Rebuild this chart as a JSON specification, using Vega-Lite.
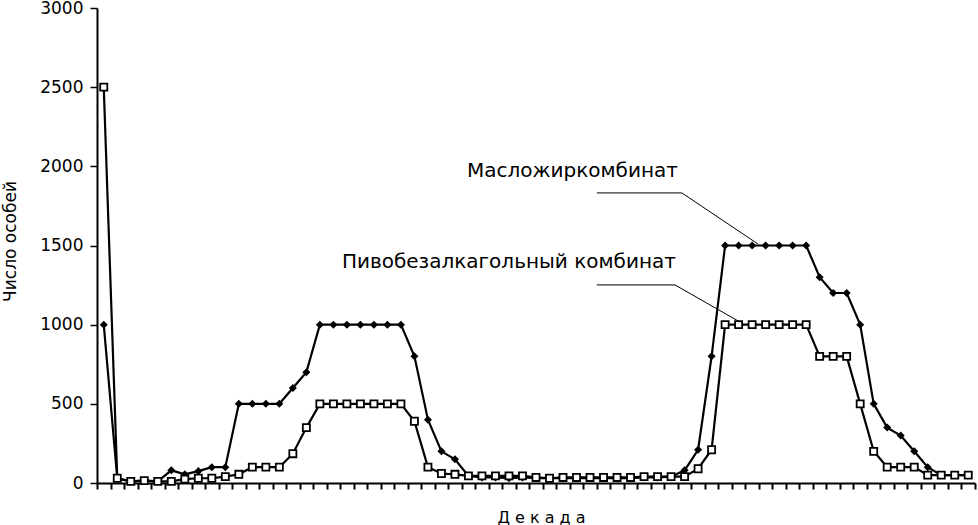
{
  "$schema": "https://vega.github.io/schema/vega-lite/v6.json",
  "autosize": "none",
  "width": 878,
  "height": 475,
  "padding": {"left": 97, "top": 8, "right": 3, "bottom": 42},
  "background": "white",
  "config": {
    "view": {"stroke": null},
    "font": "DejaVu Sans",
    "axis": {"grid": false, "domainColor": "black", "tickColor": "black", "labelColor": "black", "titleColor": "black", "domainWidth": 2, "tickWidth": 1.5}
  },
  "datasets": {
    "series": [
      {"i": 0, "M": 1000, "P": 2500},
      {"i": 1, "M": 30, "P": 30},
      {"i": 2, "M": 10, "P": 10},
      {"i": 3, "M": 15, "P": 15},
      {"i": 4, "M": 10, "P": 10},
      {"i": 5, "M": 80, "P": 10},
      {"i": 6, "M": 55, "P": 25},
      {"i": 7, "M": 75, "P": 30},
      {"i": 8, "M": 100, "P": 30},
      {"i": 9, "M": 100, "P": 40},
      {"i": 10, "M": 500, "P": 55},
      {"i": 11, "M": 500, "P": 100},
      {"i": 12, "M": 500, "P": 100},
      {"i": 13, "M": 500, "P": 100},
      {"i": 14, "M": 600, "P": 185},
      {"i": 15, "M": 700, "P": 350},
      {"i": 16, "M": 1000, "P": 500},
      {"i": 17, "M": 1000, "P": 500},
      {"i": 18, "M": 1000, "P": 500},
      {"i": 19, "M": 1000, "P": 500},
      {"i": 20, "M": 1000, "P": 500},
      {"i": 21, "M": 1000, "P": 500},
      {"i": 22, "M": 1000, "P": 500},
      {"i": 23, "M": 800, "P": 390},
      {"i": 24, "M": 400, "P": 100},
      {"i": 25, "M": 200, "P": 60},
      {"i": 26, "M": 150, "P": 55},
      {"i": 27, "M": 45, "P": 45},
      {"i": 28, "M": 35, "P": 45},
      {"i": 29, "M": 35, "P": 45},
      {"i": 30, "M": 30, "P": 45},
      {"i": 31, "M": 35, "P": 45},
      {"i": 32, "M": 30, "P": 35},
      {"i": 33, "M": 30, "P": 30},
      {"i": 34, "M": 30, "P": 35},
      {"i": 35, "M": 30, "P": 35},
      {"i": 36, "M": 30, "P": 35},
      {"i": 37, "M": 30, "P": 35},
      {"i": 38, "M": 30, "P": 35},
      {"i": 39, "M": 30, "P": 35},
      {"i": 40, "M": 35, "P": 40},
      {"i": 41, "M": 35, "P": 40},
      {"i": 42, "M": 40, "P": 40},
      {"i": 43, "M": 80, "P": 40},
      {"i": 44, "M": 210, "P": 90},
      {"i": 45, "M": 800, "P": 210},
      {"i": 46, "M": 1500, "P": 1000},
      {"i": 47, "M": 1500, "P": 1000},
      {"i": 48, "M": 1500, "P": 1000},
      {"i": 49, "M": 1500, "P": 1000},
      {"i": 50, "M": 1500, "P": 1000},
      {"i": 51, "M": 1500, "P": 1000},
      {"i": 52, "M": 1500, "P": 1000},
      {"i": 53, "M": 1300, "P": 800},
      {"i": 54, "M": 1200, "P": 800},
      {"i": 55, "M": 1200, "P": 800},
      {"i": 56, "M": 1000, "P": 500},
      {"i": 57, "M": 500, "P": 200},
      {"i": 58, "M": 350, "P": 100},
      {"i": 59, "M": 300, "P": 100},
      {"i": 60, "M": 200, "P": 100},
      {"i": 61, "M": 100, "P": 50},
      {"i": 62, "M": 50, "P": 50},
      {"i": 63, "M": 50, "P": 50},
      {"i": 64, "M": 50, "P": 50}
    ],
    "leaders": [
      {"id": 1, "o": 0, "x": 36.5, "y": 1832},
      {"id": 1, "o": 1, "x": 42.8, "y": 1832},
      {"id": 1, "o": 2, "x": 48.44, "y": 1509},
      {"id": 2, "o": 0, "x": 36.5, "y": 1251},
      {"id": 2, "o": 1, "x": 42.29, "y": 1251},
      {"id": 2, "o": 2, "x": 47.09, "y": 1017}
    ],
    "labels": [
      {"x": 26.89, "y": 1970, "t": "Масложиркомбинат"},
      {"x": 17.63, "y": 1396, "t": "Пивобезалкагольный комбинат"}
    ]
  },
  "layer": [
    {
      "data": {"name": "series"},
      "transform": [{"fold": ["M", "P"], "as": ["s", "v"]}],
      "mark": {"type": "line", "color": "black", "strokeWidth": 2.2},
      "encoding": {
        "x": {
          "field": "i", "type": "quantitative",
          "scale": {"domain": [-0.5, 64.5], "nice": false, "zero": false},
          "axis": {
            "values": [-0.5, 0.5, 1.5, 2.5, 3.5, 4.5, 5.5, 6.5, 7.5, 8.5, 9.5, 10.5, 11.5, 12.5, 13.5, 14.5, 15.5, 16.5, 17.5, 18.5, 19.5, 20.5, 21.5, 22.5, 23.5, 24.5, 25.5, 26.5, 27.5, 28.5, 29.5, 30.5, 31.5, 32.5, 33.5, 34.5, 35.5, 36.5, 37.5, 38.5, 39.5, 40.5, 41.5, 42.5, 43.5, 44.5, 45.5, 46.5, 47.5, 48.5, 49.5, 50.5, 51.5, 52.5, 53.5, 54.5, 55.5, 56.5, 57.5, 58.5, 59.5, 60.5, 61.5, 62.5, 63.5, 64.5],
            "tickCount": 100,
            "labels": false,
            "tickSize": 6,
            "tickWidth": 2,
            "title": "Д е к а д а",
            "titleFont": "DejaVu Sans",
            "titleFontSize": 16,
            "titleFontWeight": "normal",
            "titleX": 444,
            "titleY": 34,
            "titleBaseline": "middle",
            "titleAlign": "center"
          }
        },
        "y": {
          "field": "v", "type": "quantitative",
          "scale": {"domain": [0, 3000], "nice": false},
          "axis": {
            "values": [0, 500, 1000, 1500, 2000, 2500, 3000],
            "format": "d",
            "tickSize": 7,
            "labelPadding": 7,
            "labelFont": "DejaVu Sans",
            "labelFontSize": 17,
            "title": "Число особей",
            "titleFont": "DejaVu Sans",
            "titleFontSize": 17,
            "titleFontWeight": "normal",
            "titleX": -87,
            "titleY": 233,
            "titleAngle": 270,
            "titleBaseline": "middle",
            "titleAlign": "center"
          }
        },
        "detail": {"field": "s"}
      }
    },
    {
      "data": {"name": "series"},
      "mark": {"type": "point", "shape": "diamond", "filled": true, "color": "black", "size": 65, "opacity": 1},
      "encoding": {
        "x": {"field": "i", "type": "quantitative"},
        "y": {"field": "M", "type": "quantitative"}
      }
    },
    {
      "data": {"name": "series"},
      "mark": {"type": "point", "shape": "square", "filled": false, "fill": "white", "stroke": "black", "strokeWidth": 1.8, "size": 50, "opacity": 1},
      "encoding": {
        "x": {"field": "i", "type": "quantitative"},
        "y": {"field": "P", "type": "quantitative"}
      }
    },
    {
      "data": {"name": "leaders"},
      "mark": {"type": "line", "color": "black", "strokeWidth": 1},
      "encoding": {
        "x": {"field": "x", "type": "quantitative"},
        "y": {"field": "y", "type": "quantitative"},
        "detail": {"field": "id"},
        "order": {"field": "o"}
      }
    },
    {
      "data": {"name": "labels"},
      "mark": {"type": "text", "align": "left", "baseline": "middle", "font": "DejaVu Sans", "fontSize": 20, "color": "black"},
      "encoding": {
        "x": {"field": "x", "type": "quantitative"},
        "y": {"field": "y", "type": "quantitative"},
        "text": {"field": "t"}
      }
    }
  ]
}
